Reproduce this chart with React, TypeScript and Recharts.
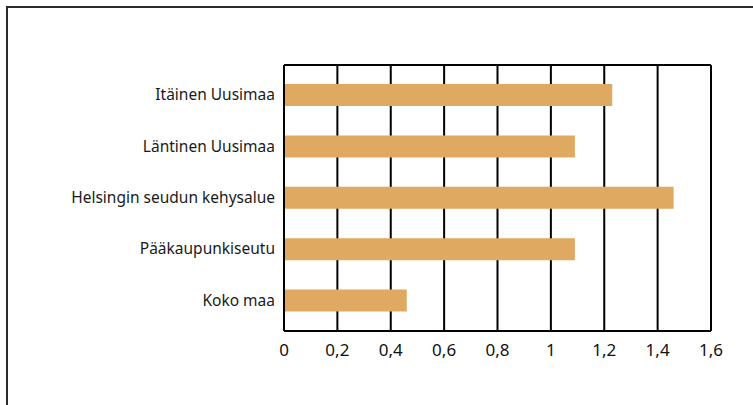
import React from 'react';
import { BarChart, Bar, XAxis, YAxis, CartesianGrid } from 'recharts';

const regions = [
  'Itäinen Uusimaa',
  'Läntinen Uusimaa',
  'Helsingin seudun kehysalue',
  'Pääkaupunkiseutu',
  'Koko maa',
];
const values = [1.23, 1.09, 1.46, 1.09, 0.46];
const xTicks = [0, 0.2, 0.4, 0.6, 0.8, 1, 1.2, 1.4, 1.6];

const data = regions.map((name, i) => ({ name, value: values[i] }));

const fmt = (v: number) => String(Math.round(v * 10) / 10).replace('.', ',');

const App: React.FC = () => {
  return (
    <div style={{ position: 'absolute', left: 0, top: 0, width: 753, height: 405, overflow: 'hidden', background: '#fff' }}>
      <div
        style={{
          position: 'absolute',
          left: 6,
          top: 6,
          width: 800,
          height: 500,
          borderTop: '2px solid #2b2b2b',
          borderLeft: '2px solid #2b2b2b',
        }}
      />
      <div style={{ position: 'absolute', left: 0, top: 0 }}>
        <BarChart
          width={753}
          height={405}
          data={data}
          layout="vertical"
          margin={{ top: 64, right: 42, left: 0, bottom: 44 }}
          style={{ fontFamily: '"Noto Sans", sans-serif' }}
        >
          <CartesianGrid horizontal={false} vertical stroke="#000" strokeWidth={2} />
          <XAxis
            type="number"
            domain={[0, 1.6]}
            ticks={xTicks}
            tickFormatter={fmt}
            axisLine={{ stroke: '#000', strokeWidth: 2 }}
            tickLine={false}
            tick={{ fill: '#111', fontSize: 17 }}
            tickMargin={7}
            height={30}
          />
          <XAxis
            xAxisId="top"
            orientation="top"
            type="number"
            domain={[0, 1.6]}
            ticks={xTicks}
            tick={false}
            tickLine={false}
            axisLine={{ stroke: '#000', strokeWidth: 2 }}
            height={1}
          />
          <YAxis
            type="category"
            dataKey="name"
            width={284}
            axisLine={{ stroke: '#000', strokeWidth: 2 }}
            tickLine={false}
            tick={{ fill: '#1a1a1a', fontSize: 15.5 }}
            tickMargin={3}
            padding={{ top: 4, bottom: 5 }}
          />
          <Bar dataKey="value" fill="#E0A961" barSize={22} isAnimationActive={false} />
        </BarChart>
      </div>
    </div>
  );
};

export default App;
